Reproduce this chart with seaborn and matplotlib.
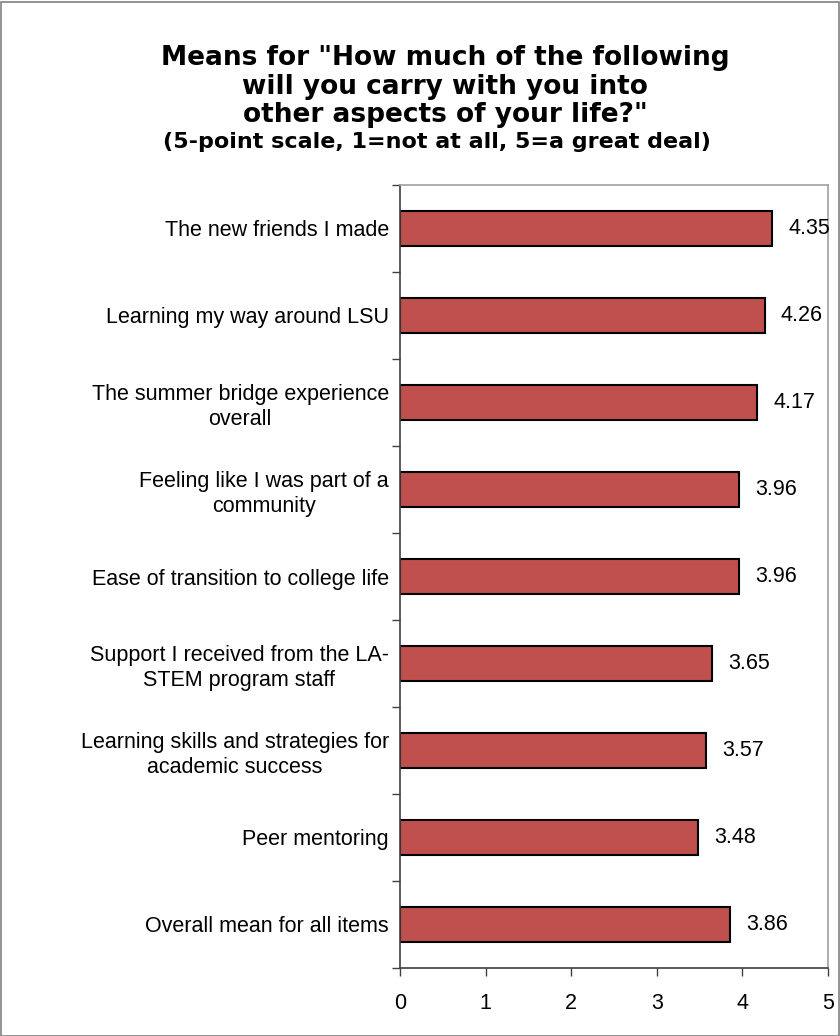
import matplotlib
matplotlib.use("Agg")
import matplotlib.pyplot as plt
import seaborn as sns
import pandas as pd
from matplotlib.patches import Rectangle

categories = [
    "The new friends I made",
    "Learning my way around LSU",
    "The summer bridge experience\noverall",
    "Feeling like I was part of a\ncommunity",
    "Ease of transition to college life",
    "Support I received from the LA-\nSTEM program staff",
    "Learning skills and strategies for\nacademic success",
    "Peer mentoring",
    "Overall mean for all items",
]
means = [4.35, 4.26, 4.17, 3.96, 3.96, 3.65, 3.57, 3.48, 3.86]
value_labels = ["4.35", "4.26", "4.17", "3.96", "3.96", "3.65", "3.57", "3.48", "3.86"]
x_ticks = [0, 1, 2, 3, 4, 5]
title_lines = ['Means for "How much of the following',
               'will you carry with you into',
               'other aspects of your life?"']
subtitle = '(5-point scale, 1=not at all, 5=a great deal)'

sns.set_style("white")
plt.rcParams['font.family'] = ['Liberation Sans', 'DejaVu Sans']
plt.rcParams['text.color'] = 'black'
plt.rcParams['xtick.color'] = 'black'
plt.rcParams['ytick.color'] = 'black'

df = pd.DataFrame({"item": categories, "mean": means})

fig = plt.figure(figsize=(8.4, 10.36), dpi=100)
ax = fig.add_axes([400/840, 68/1036, 428/840, (968-185)/1036])

sns.barplot(data=df, x="mean", y="item", orient="h", color="#C0504D",
            saturation=1, width=0.4, edgecolor="black", linewidth=1.5, ax=ax)

ax.set_xlim(0, 5)
ax.set_ylim(len(categories) - 0.5, -0.5)
ax.set_xticks(x_ticks)
ax.set_xticklabels([str(t) for t in x_ticks], fontsize=15.5)
ax.set_xlabel("")
ax.set_ylabel("")
ax.tick_params(axis='x', direction='out', length=6, width=1, color='#404040', pad=12, bottom=True)
ax.set_yticks(range(len(categories)))
ax.set_yticklabels(categories, fontsize=15.5, ha='right', multialignment='center', linespacing=1.22)
ax.tick_params(axis='y', which='major', length=0, pad=8)
ax.set_yticks([i - 0.5 for i in range(len(categories) + 1)], minor=True)
ax.tick_params(axis='y', which='minor', direction='out', length=6, width=1, color='#404040', left=True)

for side in ['left', 'bottom']:
    ax.spines[side].set_color('#404040')
    ax.spines[side].set_linewidth(1.2)
for side in ['top', 'right']:
    ax.spines[side].set_visible(True)
    ax.spines[side].set_color('#A0A0A0')
    ax.spines[side].set_linewidth(1.2)

for i, (v, lab) in enumerate(zip(means, value_labels)):
    ax.text(v + 0.19, i, lab, va='center', ha='left', fontsize=15.5)

title_y = [58, 87, 115]
for line, yy in zip(title_lines, title_y):
    fig.text(445/840, 1 - yy/1036, line, ha='center', va='center',
             fontsize=19, fontweight='bold', family=['DejaVu Sans'])
fig.text(437/840, 1 - 142/1036, subtitle, ha='center', va='center',
         fontsize=16, fontweight='bold', family=['DejaVu Sans'])

fig.patches.append(Rectangle((0.5/840, 0.5/1036), 838/840, 1034/1036, transform=fig.transFigure,
                             fill=False, edgecolor='#808080', linewidth=1.2))

fig.savefig("out.png", dpi=100)
